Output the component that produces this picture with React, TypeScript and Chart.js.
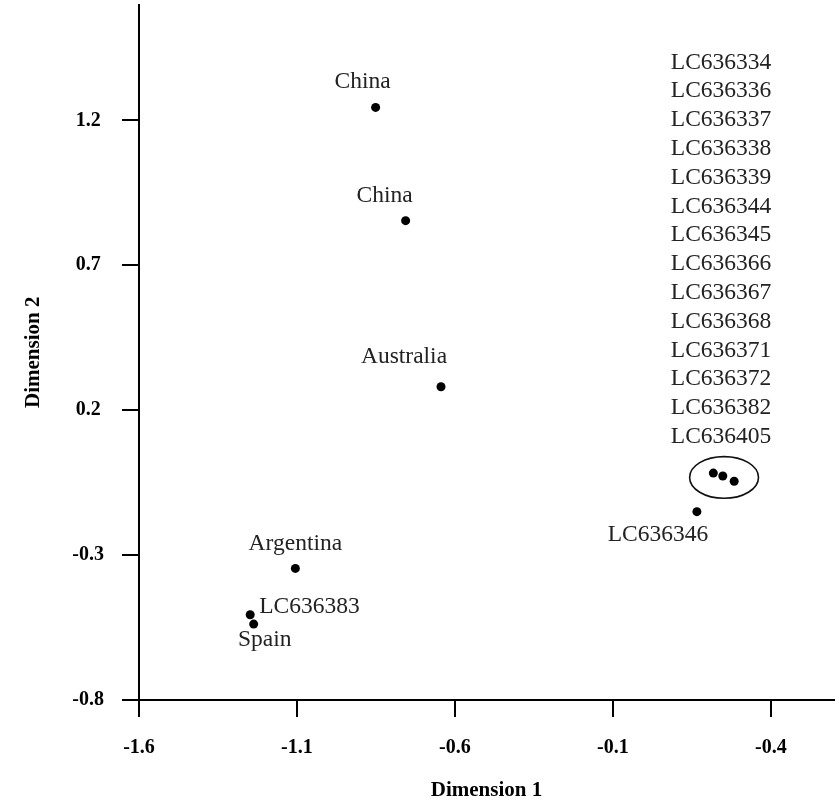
import { useEffect, useRef } from "react";
import { Chart, registerables } from "chart.js";

Chart.register(...registerables);

// ---- data ----
const pointNames = [
  "China",
  "China",
  "Australia",
  "Argentina",
  "LC636383",
  "Spain",
  "LC636346",
  "cluster-a",
  "cluster-b",
  "cluster-c",
];
const dimension1 = [-0.851, -0.756, -0.644, -1.105, -1.248, -1.237, 0.166, 0.218, 0.248, 0.284];
const dimension2 = [1.245, 0.854, 0.281, -0.346, -0.506, -0.538, -0.15, -0.017, -0.027, -0.045];

const clusterNames = [
  "LC636334",
  "LC636336",
  "LC636337",
  "LC636338",
  "LC636339",
  "LC636344",
  "LC636345",
  "LC636366",
  "LC636367",
  "LC636368",
  "LC636371",
  "LC636372",
  "LC636382",
  "LC636405",
];
const clusterCenter = [0.252, -0.032];
const clusterRadii = [0.109, 0.072];

const xTickValues = [-1.6, -1.1, -0.6, -0.1, 0.4];
const xTickLabels = ["-1.6", "-1.1", "-0.6", "-0.1", "-0.4"];
const yTickValues = [-0.8, -0.3, 0.2, 0.7, 1.2];
const yTickLabels = ["-0.8", "-0.3", "0.2", "0.7", "1.2"];

// ---- label styling (pixel offsets from each point) ----
type Placement = { dx: number; dy: number; align: CanvasTextAlign } | null;
const labelPlacement: Placement[] = [
  { dx: -13, dy: -19, align: "center" },
  { dx: -21, dy: -19, align: "center" },
  { dx: -37, dy: -24, align: "center" },
  { dx: 0, dy: -18, align: "center" },
  { dx: 9, dy: -2, align: "left" },
  { dx: 11, dy: 21.5, align: "center" },
  { dx: -39, dy: 29, align: "center" },
  null,
  null,
  null,
];

const SERIF = "'Liberation Serif', 'Times New Roman', serif";

const labelPlugin = {
  id: "pointLabels",
  afterDatasetsDraw(chart: any) {
    const ctx: CanvasRenderingContext2D = chart.ctx;
    const xs = chart.scales.x;
    const ys = chart.scales.y;
    ctx.save();
    ctx.font = `23.5px ${SERIF}`;
    ctx.fillStyle = "#222";
    ctx.textBaseline = "alphabetic";
    pointNames.forEach((name, i) => {
      const p = labelPlacement[i];
      if (!p) return;
      const px = xs.getPixelForValue(dimension1[i]);
      const py = ys.getPixelForValue(dimension2[i]);
      ctx.textAlign = p.align;
      ctx.fillText(name, px + p.dx, py + p.dy);
    });

    const cx = xs.getPixelForValue(clusterCenter[0]);
    const cy = ys.getPixelForValue(clusterCenter[1]);
    const rx = Math.abs(xs.getPixelForValue(clusterCenter[0] + clusterRadii[0]) - cx);
    const ry = Math.abs(ys.getPixelForValue(clusterCenter[1] + clusterRadii[1]) - cy);
    ctx.beginPath();
    ctx.ellipse(cx, cy, rx, ry, 0, 0, Math.PI * 2);
    ctx.lineWidth = 1.6;
    ctx.strokeStyle = "#111";
    ctx.stroke();

    ctx.textAlign = "center";
    const n = clusterNames.length;
    clusterNames.forEach((name, k) => {
      ctx.fillText(name, cx - 3, cy - 34.5 - (n - 1 - k) * 28.8);
    });
    ctx.restore();
  },
};

export default function App() {
  const canvasRef = useRef<HTMLCanvasElement | null>(null);

  useEffect(() => {
    if (!canvasRef.current) return;
    const chart = new Chart(canvasRef.current, {
      type: "scatter",
      data: {
        datasets: [
          {
            label: "MDS",
            data: dimension1.map((x, i) => ({ x, y: dimension2[i] })),
            pointRadius: 4.5,
            pointHoverRadius: 4.5,
            pointBackgroundColor: "#000",
            pointBorderWidth: 0,
            borderWidth: 0,
          },
        ],
      },
      options: {
        animation: false,
        responsive: false,
        maintainAspectRatio: false,
        layout: { padding: { top: 4, right: 5, bottom: 0, left: 0 } },
        plugins: {
          legend: { display: false },
          tooltip: { enabled: false },
        },
        scales: {
          x: {
            type: "linear",
            min: -1.6,
            max: 0.6,
            afterBuildTicks: (scale: any) => {
              scale.ticks = xTickValues.map((v) => ({ value: v }));
            },
            afterFit: (scale: any) => {
              scale.height = 103;
              scale.paddingLeft = 0;
              scale.paddingRight = 0;
            },
            ticks: {
              callback: (_v: any, i: number) => xTickLabels[i],
              font: { family: SERIF, size: 20, weight: "bold" },
              color: "#000",
              padding: 19,
              maxRotation: 0,
              autoSkip: false,
            },
            grid: {
              display: true,
              drawOnChartArea: false,
              drawTicks: true,
              tickLength: 17,
              color: "#000",
              lineWidth: 2,
            },
            border: { display: true, color: "#000", width: 2 },
            title: {
              display: true,
              text: "Dimension 1",
              font: { family: SERIF, size: 21, weight: "bold" },
              color: "#000",
              padding: { top: 0, bottom: 0 },
            },
          },
          y: {
            type: "linear",
            min: -0.8,
            max: 1.6,
            afterBuildTicks: (scale: any) => {
              scale.ticks = yTickValues.map((v) => ({ value: v }));
            },
            afterFit: (scale: any) => {
              scale.width = 139;
              scale.paddingTop = 0;
              scale.paddingBottom = 0;
            },
            ticks: {
              callback: (_v: any, i: number) => yTickLabels[i],
              font: { family: SERIF, size: 20, weight: "bold" },
              color: "#000",
              padding: 18,
              crossAlign: "center",
              autoSkip: false,
            },
            grid: {
              display: true,
              drawOnChartArea: false,
              drawTicks: true,
              tickLength: 17,
              color: "#000",
              lineWidth: 2,
            },
            border: { display: true, color: "#000", width: 2 },
            title: {
              display: true,
              text: "Dimension 2",
              font: { family: SERIF, size: 21, weight: "bold" },
              color: "#000",
              padding: { top: 21, bottom: 0 },
            },
          },
        },
      },
      plugins: [labelPlugin],
    });
    return () => chart.destroy();
  }, []);

  return (
    <div style={{ position: "absolute", left: 0, top: 0, width: 839, height: 803, background: "#fff" }}>
      <canvas ref={canvasRef} width={839} height={803} />
    </div>
  );
}
